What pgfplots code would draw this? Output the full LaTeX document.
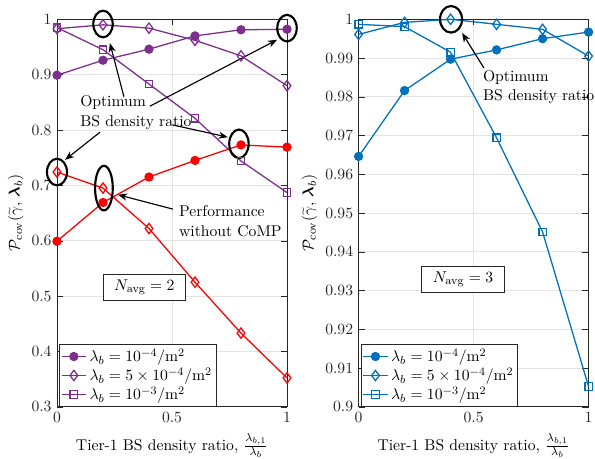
\documentclass[11pt,border=0pt]{standalone}
\usepackage{pgfplots}
\pgfplotsset{compat=1.18}
\usepackage{bm}
\usetikzlibrary{arrows.meta}

\definecolor{mpurple}{rgb}{0.494,0.184,0.556}
\definecolor{mblue}{rgb}{0,0.447,0.741}
\definecolor{axgray}{rgb}{0.15,0.15,0.15}

\tikzset{
  ring/.style={black, line width=1.5pt},
  arr/.style={black, line width=0.8pt, -{Stealth[length=6.5pt, width=5pt]}},
}

\pgfplotsset{
  panel/.style={
    scale only axis,
    width=161pt, height=271.2pt,
    anchor=south west,
    xmin=0, xmax=1,
    xtick={0,0.5,1}, xticklabels={0,0.5,1},
    grid=major,
    major grid style={color=gray!22, line width=0.5pt},
    axis line style={axgray},
    tick style={axgray},
    ticklabel style={text=axgray},
    clip=false,
    xlabel={Tier-1 BS density ratio, $\frac{\lambda_{b,1}}{\lambda_b}$},
    ylabel={$\mathcal{P}_{\rm cov}(\widetilde{\gamma},\, \bm{\lambda}_b)$},
    ylabel style={yshift=-2pt},
    legend cell align=left,
    legend style={draw=axgray, fill=white, font=\normalsize,
      row sep=-1.5pt, inner sep=1pt},
    every axis plot/.append style={line width=0.9pt},
  },
  circ/.style={mark=*, mark size=2.8pt},
  diam/.style={mark=diamond, mark size=3.6pt, mark options={solid, line width=0.9pt}},
  sq/.style={mark=square, mark size=2.6pt, mark options={solid, line width=0.9pt}},
}

\begin{document}
\begin{tikzpicture}
\useasboundingbox (0,0) rectangle (416.5pt,320.6pt);

% ---- N_avg = 2 ----
\begin{axis}[panel, at={(39.9pt,35.9pt)},
  ymin=0.3, ymax=1,
  ytick={0.3,0.4,0.5,0.6,0.7,0.8,0.9,1},
  yticklabels={0.3,0.4,0.5,0.6,0.7,0.8,0.9,1},
  legend style={at={(0.01,0)}, anchor=south west}]
\addplot[mpurple, circ] coordinates {(0,0.899) (0.2,0.926) (0.4,0.946) (0.6,0.970) (0.8,0.981) (1,0.982)};
\addlegendentry{$\lambda_b = 10^{-4}/\mathrm{m}^2$}
\addplot[mpurple, diam] coordinates {(0,0.983) (0.2,0.990) (0.4,0.984) (0.6,0.962) (0.8,0.934) (1,0.880)};
\addlegendentry{$\lambda_b = 5\times10^{-4}/\mathrm{m}^2$}
\addplot[mpurple, sq] coordinates {(0,0.985) (0.2,0.945) (0.4,0.883) (0.6,0.821) (0.8,0.744) (1,0.687)};
\addlegendentry{$\lambda_b = 10^{-3}/\mathrm{m}^2$}
\addplot[red, circ, forget plot] coordinates {(0,0.599) (0.2,0.669) (0.4,0.715) (0.6,0.745) (0.8,0.773) (1,0.769)};
\addplot[red, diam, forget plot] coordinates {(0,0.724) (0.2,0.695) (0.4,0.622) (0.6,0.525) (0.8,0.433) (1,0.352)};

% highlighted operating points
\draw[ring] (axis cs:0.2,0.9915) ellipse [x radius=6.8pt, y radius=9.3pt];
\draw[ring] (axis cs:1,0.984) ellipse [x radius=6.8pt, y radius=9.3pt];
\draw[ring] (axis cs:0.791,0.775) ellipse [x radius=6.8pt, y radius=10pt];
\draw[ring] (axis cs:0,0.724) ellipse [x radius=7pt, y radius=9.3pt];
\draw[ring] (axis cs:0.204,0.695) ellipse [x radius=6.2pt, y radius=15.6pt];

\node[anchor=west, align=left, inner sep=0pt] at (axis cs:0.1,0.8316) {Optimum\\BS density ratio};
\draw[arr] (axis cs:0.291,0.860) -- (axis cs:0.230,0.957);
\draw[arr] (axis cs:0.404,0.843) -- (axis cs:0.957,0.963);
\draw[arr] (axis cs:0.187,0.796) -- (axis cs:0.035,0.746);
\draw[arr] (axis cs:0.504,0.809) -- (axis cs:0.743,0.787);

\node[anchor=west, align=left, inner sep=0pt] at (axis cs:0.530,0.6355) {Performance\\without CoMP};
\draw[arr] (axis cs:0.504,0.657) -- (axis cs:0.265,0.683);

\node[draw=axgray, fill=white, line width=0.6pt, minimum width=58pt, minimum height=18pt]
  at (axis cs:0.380,0.516) {$N_{\rm avg} = 2$};
\end{axis}

% ---- N_avg = 3 ----
\begin{axis}[panel, at={(251pt,35.9pt)},
  ymin=0.9, ymax=1,
  ytick={0.9,0.91,0.92,0.93,0.94,0.95,0.96,0.97,0.98,0.99,1},
  yticklabels={0.9,0.91,0.92,0.93,0.94,0.95,0.96,0.97,0.98,0.99,1},
  legend style={at={(0.01,0)}, anchor=south west}]
\addplot[mblue, circ] coordinates {(0,0.9646) (0.2,0.9816) (0.4,0.9897) (0.6,0.9921) (0.8,0.9950) (1,0.9967)};
\addlegendentry{$\lambda_b = 10^{-4}/\mathrm{m}^2$}
\addplot[mblue, diam] coordinates {(0,0.9961) (0.2,0.9992) (0.4,1.0000) (0.6,0.9987) (0.8,0.9974) (1,0.9905)};
\addlegendentry{$\lambda_b = 5\times10^{-4}/\mathrm{m}^2$}
\addplot[mblue, sq] coordinates {(0,0.9987) (0.2,0.9981) (0.4,0.9915) (0.6,0.9694) (0.8,0.9451) (1,0.9052)};
\addlegendentry{$\lambda_b = 10^{-3}/\mathrm{m}^2$}

\draw[ring] (axis cs:0.402,1.0) ellipse [x radius=7.7pt, y radius=9.3pt];
\draw[arr] (axis cs:0.545,0.98743) -- (axis cs:0.45,0.99646);
\node[anchor=west, align=left, inner sep=0pt] at (axis cs:0.540,0.98253) {Optimum\\BS density ratio};

\node[draw=axgray, fill=white, line width=0.6pt, minimum width=58pt, minimum height=18pt]
  at (axis cs:0.454,0.93283) {$N_{\rm avg} = 3$};
\end{axis}
\end{tikzpicture}
\end{document}
